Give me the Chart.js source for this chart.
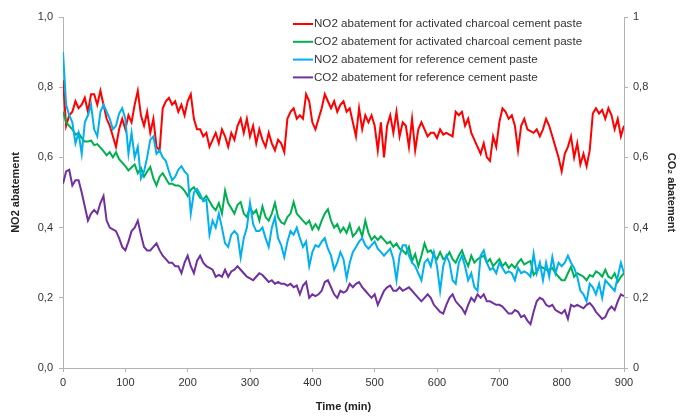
<!DOCTYPE html>
<html>
<head>
<meta charset="utf-8">
<script src="https://cdn.jsdelivr.net/npm/chart.js@4"></script>
<style>
  body { margin: 0; background: #fff; }
  #wrap { width: 681px; height: 419px; }
</style>
</head>
<body>
<div id="wrap"><canvas id="chart"></canvas></div>
<script>
// time grid in minutes, one reading every 5 min
const times = Array.from({ length: 181 }, (_, i) => i * 5);

const no2Charcoal = [
  0.82, 0.69, 0.72, 0.73, 0.76, 0.74, 0.75, 0.77, 0.73, 0.78,
  0.78, 0.75, 0.79, 0.75, 0.71, 0.69, 0.66, 0.63, 0.68, 0.71,
  0.68, 0.72, 0.70, 0.75, 0.79, 0.72, 0.69, 0.73, 0.67, 0.71,
  0.63, 0.62, 0.74, 0.76, 0.77, 0.75, 0.76, 0.73, 0.75, 0.72,
  0.76, 0.78, 0.71, 0.68, 0.68, 0.66, 0.67, 0.63, 0.65, 0.67,
  0.64, 0.68, 0.66, 0.63, 0.67, 0.65, 0.69, 0.71, 0.67, 0.71,
  0.66, 0.69, 0.64, 0.68, 0.65, 0.63, 0.67, 0.64, 0.62, 0.65,
  0.64, 0.615, 0.71, 0.73, 0.74, 0.71, 0.72, 0.71, 0.78, 0.76,
  0.70, 0.68, 0.71, 0.74, 0.78, 0.76, 0.74, 0.76, 0.73, 0.75,
  0.76, 0.73, 0.74, 0.70, 0.66, 0.74, 0.68, 0.72, 0.70, 0.72,
  0.69, 0.62, 0.70, 0.60, 0.69, 0.72, 0.67, 0.73, 0.66, 0.70,
  0.69, 0.63, 0.71, 0.62, 0.68, 0.70, 0.68, 0.66, 0.67, 0.67,
  0.655, 0.68, 0.665, 0.67, 0.665, 0.66, 0.73, 0.72, 0.73, 0.69,
  0.71, 0.67, 0.65, 0.63, 0.61, 0.64, 0.60, 0.59, 0.66, 0.63,
  0.70, 0.74, 0.73, 0.71, 0.72, 0.69, 0.62, 0.69, 0.71, 0.68,
  0.675, 0.67, 0.68, 0.66, 0.68, 0.71, 0.69, 0.66, 0.63, 0.60,
  0.56, 0.61, 0.63, 0.66, 0.60, 0.64, 0.58, 0.61, 0.575, 0.62,
  0.725, 0.74, 0.725, 0.735, 0.71, 0.74, 0.72, 0.68, 0.71, 0.66,
  0.69
];

const co2Charcoal = [
  0.73, 0.70, 0.69, 0.68, 0.665, 0.67, 0.655, 0.645, 0.645, 0.648,
  0.635, 0.638, 0.628, 0.618, 0.606, 0.615, 0.60, 0.615, 0.595, 0.585,
  0.575, 0.563, 0.572, 0.58, 0.555, 0.57, 0.545, 0.56, 0.573, 0.54,
  0.52, 0.545, 0.555, 0.54, 0.525, 0.525, 0.52, 0.52, 0.515, 0.505,
  0.49, 0.508, 0.515, 0.50, 0.485, 0.48, 0.49, 0.475, 0.46, 0.45,
  0.47, 0.44, 0.505, 0.47, 0.455, 0.44, 0.465, 0.473, 0.44, 0.43,
  0.46, 0.44, 0.45, 0.42, 0.46, 0.43, 0.42, 0.44, 0.47, 0.43,
  0.415, 0.41, 0.43, 0.44, 0.473, 0.44, 0.43, 0.42, 0.41, 0.42,
  0.395, 0.41, 0.395, 0.42, 0.44, 0.452, 0.42, 0.40, 0.41, 0.387,
  0.40, 0.385, 0.41, 0.375, 0.385, 0.40, 0.375, 0.42, 0.385, 0.365,
  0.375, 0.365, 0.375, 0.365, 0.355, 0.36, 0.345, 0.355, 0.34, 0.335,
  0.325, 0.345, 0.305, 0.325, 0.29, 0.32, 0.355, 0.33, 0.335, 0.32,
  0.31, 0.33, 0.31, 0.315, 0.33, 0.31, 0.30, 0.32, 0.335, 0.31,
  0.29, 0.32, 0.30, 0.31, 0.315, 0.32, 0.30, 0.31, 0.29, 0.30,
  0.31, 0.29, 0.30, 0.285, 0.295, 0.285, 0.30, 0.31, 0.295, 0.30,
  0.305, 0.265, 0.275, 0.29, 0.285, 0.28, 0.28, 0.285, 0.27, 0.26,
  0.25, 0.25, 0.27, 0.288, 0.26, 0.27, 0.265, 0.26, 0.25, 0.265,
  0.26, 0.275, 0.27, 0.26, 0.28, 0.26, 0.255, 0.27, 0.245, 0.26,
  0.27
];

const no2Reference = [
  0.90, 0.75, 0.72, 0.70, 0.64, 0.67, 0.61, 0.70, 0.72, 0.75,
  0.68, 0.66, 0.73, 0.75, 0.73, 0.71, 0.68, 0.69, 0.725, 0.74,
  0.71, 0.61, 0.67, 0.60, 0.63, 0.54, 0.56, 0.60, 0.65, 0.66,
  0.61, 0.62, 0.60, 0.59, 0.56, 0.535, 0.545, 0.565, 0.575, 0.56,
  0.55, 0.44, 0.50, 0.51, 0.495, 0.475, 0.48, 0.38, 0.42, 0.40,
  0.44, 0.40, 0.355, 0.345, 0.38, 0.39, 0.38, 0.315, 0.37, 0.40,
  0.47, 0.41, 0.39, 0.39, 0.40, 0.37, 0.345, 0.40, 0.43, 0.37,
  0.35, 0.316, 0.36, 0.39, 0.38, 0.40, 0.37, 0.345, 0.36, 0.29,
  0.33, 0.35, 0.345, 0.36, 0.37, 0.34, 0.32, 0.28, 0.30, 0.33,
  0.31, 0.256, 0.30, 0.33, 0.345, 0.36, 0.37, 0.35, 0.34, 0.35,
  0.36, 0.34, 0.33, 0.32, 0.33, 0.34, 0.31, 0.25, 0.32, 0.35,
  0.35, 0.32, 0.30, 0.29, 0.27, 0.25, 0.30, 0.31, 0.29, 0.33,
  0.29, 0.22, 0.29, 0.32, 0.30, 0.25, 0.24, 0.30, 0.32, 0.29,
  0.25, 0.27, 0.23, 0.22, 0.32, 0.335, 0.30, 0.28, 0.285, 0.27,
  0.30, 0.285, 0.27, 0.275, 0.27, 0.25, 0.285, 0.27, 0.275, 0.27,
  0.26, 0.326, 0.27, 0.30, 0.25, 0.30, 0.26, 0.316, 0.27, 0.30,
  0.29, 0.30, 0.32, 0.30, 0.285, 0.26, 0.22, 0.21, 0.19, 0.24,
  0.23, 0.21, 0.24, 0.20, 0.25, 0.24, 0.23, 0.22, 0.26, 0.30,
  0.27
];

const co2Reference = [
  0.525, 0.56, 0.565, 0.52, 0.535, 0.535, 0.50, 0.46, 0.42, 0.44,
  0.45, 0.44, 0.47, 0.49, 0.42, 0.40, 0.395, 0.39, 0.37, 0.345,
  0.335, 0.36, 0.39, 0.40, 0.42, 0.38, 0.345, 0.335, 0.335, 0.345,
  0.355, 0.335, 0.32, 0.31, 0.30, 0.30, 0.29, 0.29, 0.27, 0.30,
  0.32, 0.29, 0.27, 0.305, 0.32, 0.30, 0.29, 0.285, 0.28, 0.26,
  0.265, 0.26, 0.28, 0.26, 0.275, 0.28, 0.29, 0.28, 0.27, 0.26,
  0.255, 0.25, 0.26, 0.27, 0.265, 0.255, 0.245, 0.25, 0.24, 0.245,
  0.24, 0.24, 0.235, 0.24, 0.23, 0.235, 0.21, 0.235, 0.245, 0.20,
  0.21, 0.205, 0.21, 0.22, 0.245, 0.25, 0.23, 0.21, 0.20, 0.22,
  0.215, 0.22, 0.24, 0.23, 0.24, 0.245, 0.23, 0.22, 0.21, 0.20,
  0.21, 0.18, 0.20, 0.22, 0.23, 0.235, 0.22, 0.22, 0.23, 0.22,
  0.225, 0.23, 0.22, 0.21, 0.20, 0.19, 0.20, 0.21, 0.20, 0.18,
  0.17, 0.16, 0.155, 0.18, 0.20, 0.21, 0.19, 0.18, 0.17, 0.155,
  0.18, 0.20, 0.19, 0.21, 0.20, 0.21, 0.19, 0.19, 0.185, 0.18,
  0.18, 0.175, 0.165, 0.155, 0.155, 0.165, 0.16, 0.145, 0.15, 0.135,
  0.125, 0.16, 0.19, 0.20, 0.195, 0.18, 0.175, 0.18, 0.165, 0.16,
  0.155, 0.165, 0.14, 0.18, 0.175, 0.18, 0.175, 0.17, 0.18, 0.185,
  0.175, 0.16, 0.15, 0.14, 0.145, 0.165, 0.175, 0.165, 0.19, 0.21,
  0.205
];

const seriesLabels = [
  'NO2 abatement for activated charcoal cement paste',
  'CO2 abatement for activated charcoal cement paste',
  'NO2 abatement for reference cement paste',
  'CO2 abatement for reference cement paste'
];

const pairs = (vals) => vals.map((v, i) => ({ x: times[i], y: v }));
const comma = (v) => v.toFixed(1).replace('.', ',');
const axisGrey = '#b3b3b3';

Chart.defaults.font.family = '"Liberation Sans", Arial, sans-serif';
Chart.defaults.font.size = 11;
Chart.defaults.color = '#333';

// legend sits inside the plot, top right, like the excel original
const insideLegend = {
  id: 'insideLegend',
  afterDraw(chart) {
    const { ctx } = chart;
    ctx.save();
    ctx.font = '11.6px "Liberation Sans", Arial, sans-serif';
    ctx.textBaseline = 'middle';
    ctx.fillStyle = '#333';
    chart.data.datasets.forEach((ds, i) => {
      const y = 24 + i * 17.8;
      ctx.strokeStyle = ds.borderColor;
      ctx.lineWidth = 2;
      ctx.beginPath();
      ctx.moveTo(293, y);
      ctx.lineTo(313, y);
      ctx.stroke();
      ctx.fillText(ds.label, 314, y);
    });
    ctx.restore();
  }
};

const line = (label, vals, color, axis, order) => ({
  label: label,
  data: pairs(vals),
  borderColor: color,
  backgroundColor: color,
  borderWidth: 2,
  pointRadius: 0,
  tension: 0,
  yAxisID: axis,
  order: order
});

new Chart(document.getElementById('chart'), {
  type: 'line',
  data: {
    datasets: [
      line(seriesLabels[0], no2Charcoal, '#ff0000', 'y', 3),
      line(seriesLabels[1], co2Charcoal, '#00b050', 'y2', 2),
      line(seriesLabels[2], no2Reference, '#00b0f0', 'y', 1),
      line(seriesLabels[3], co2Reference, '#7030a0', 'y2', 0)
    ]
  },
  options: {
    responsive: true,
    maintainAspectRatio: false,
    animation: false,
    layout: { padding: { top: 17, left: 0, right: 0, bottom: 0 } },
    plugins: { legend: { display: false }, tooltip: { enabled: false } },
    scales: {
      x: {
        type: 'linear', min: 0, max: 900,
        ticks: { stepSize: 100, padding: 4, maxRotation: 0 },
        grid: { drawOnChartArea: false, color: axisGrey, tickLength: 4 },
        border: { color: axisGrey },
        title: { display: true, text: 'Time (min)', color: '#222',
                 font: { size: 11, weight: 'bold' }, padding: { top: 0, bottom: 5 } },
        afterFit(scale) { scale.height = 51; }
      },
      y: {
        position: 'left', min: 0, max: 1,
        ticks: { stepSize: 0.2, padding: 6, callback: (v) => comma(v) },
        grid: { drawOnChartArea: false, color: axisGrey, tickLength: 4 },
        border: { color: axisGrey },
        title: { display: true, text: 'NO2 abatement', color: '#222',
                 font: { size: 11, weight: 'bold' }, padding: { top: 9, bottom: 0 } },
        afterFit(scale) { scale.width = 63; }
      },
      y2: {
        position: 'right', min: 0, max: 1,
        ticks: { stepSize: 0.2, padding: 5,
                 callback: (v) => (v === 0 || v === 1) ? String(v) : comma(v) },
        grid: { drawOnChartArea: false, color: axisGrey, tickLength: 4 },
        border: { color: axisGrey },
        title: { display: true, text: 'CO\u2082 abatement', color: '#222',
                 font: { size: 11, weight: 'bold' }, padding: { top: 3, bottom: 0 } },
        afterFit(scale) { scale.width = 57; }
      }
    }
  },
  plugins: [insideLegend]
});
</script>
</body>
</html>
